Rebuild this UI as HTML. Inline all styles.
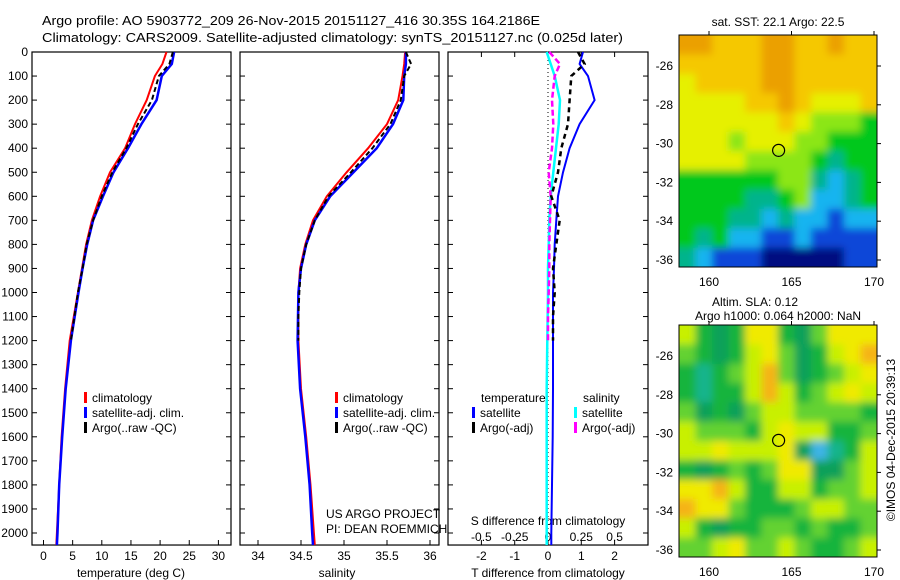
<!DOCTYPE html>
<html><head><meta charset="utf-8"><style>
body{margin:0;background:#fff;}
svg{display:block;font-family:"Liberation Sans",sans-serif;}
</style></head><body>
<svg id="fig" width="900" height="580" viewBox="0 0 900 580">
<rect width="900" height="580" fill="#fff"/>
<text x="42" y="25" font-size="13" textLength="498" lengthAdjust="spacingAndGlyphs">Argo profile: AO 5903772_209 26-Nov-2015 20151127_416 30.35S 164.2186E</text>
<text x="42" y="42" font-size="13" textLength="581" lengthAdjust="spacingAndGlyphs">Climatology: CARS2009. Satellite-adjusted climatology: synTS_20151127.nc (0.025d later)</text>
<g id="g1"></g>
<g id="g2"></g>
<g id="g3"></g>
<g id="m1"></g>
<g id="m2"></g>
<text x="0" y="0" font-size="12" text-anchor="middle" transform="translate(895,440) rotate(-90)">©IMOS 04-Dec-2015 20:39:13</text>
</svg>
<script>
// ---- data ----
const depths = [0,50,100,200,300,400,500,600,700,800,900,1000,1200,1400,1600,1800,2000,2050];
const tempClim = [21.1,20.4,19.1,17.7,15.7,14.0,11.4,9.7,8.3,7.3,6.6,5.9,4.5,3.7,3.1,2.7,2.3,2.2];
const tempSat  = [22.4,22.0,20.3,19.4,16.8,14.5,12.0,10.2,8.5,7.5,6.7,6.0,4.7,3.8,3.2,2.7,2.4,2.3];
const argoDepths = [0,50,100,200,300,400,500,600,700,800,900,1000,1100,1200];
const tempArgo = [22.2,21.6,19.8,18.6,16.2,14.2,11.8,10.0,8.5,7.4,6.7,5.9,5.3,4.7];
const salClim = [35.71,35.70,35.68,35.63,35.50,35.28,35.03,34.80,34.64,34.55,34.49,34.47,34.47,34.50,34.56,34.61,34.65,34.66];
const salSat  = [35.72,35.72,35.70,35.69,35.57,35.38,35.11,34.84,34.66,34.56,34.50,34.47,34.46,34.49,34.55,34.60,34.63,34.64];
const salArgo = [35.72,35.78,35.70,35.66,35.54,35.33,35.08,34.82,34.66,34.56,34.50,34.48,34.47,34.47];
const tDiffSat = [1.05,0.95,1.2,1.4,0.95,0.65,0.45,0.3,0.25,0.2,0.18,0.15,0.15,0.15,0.14,0.12,0.1,0.1];
const tDiffArgo = [0.9,1.1,0.7,0.65,0.6,0.4,0.3,0.1,0.35,0.25,0.15,0.2,0.15,0.15];
const sDiffSat = [-0.01,0.02,0.05,0.09,0.08,0.06,0.04,0.02,0.01,0.005,0.0,0.0,-0.005,-0.01,-0.01,-0.01,-0.01,-0.01];
const sDiffArgo = [0.01,0.09,0.05,0.03,0.04,0.03,0.005,0.02,0.015,0.01,0.01,0.005,0.0,0.0];
const depthTicks = [0,100,200,300,400,500,600,700,800,900,1000,1100,1200,1300,1400,1500,1600,1700,1800,1900,2000];
const tempTicks = [0,5,10,15,20,25,30];
const salTicks = [34,34.5,35,35.5,36];
const tDiffTicks = [-2,-1,0,1,2];
const sDiffTicks = [-0.5,-0.25,0,0.25,0.5];
const lonTicks = [160,165,170];
const latTicks = [-26,-28,-30,-32,-34,-36];
const sstGrid = [
[8,8,7,7,7,8,8,7,7,8,7,7],
[7,7,7,7,7,8,8,7,7,7,7,7],
[6,7,7,7,7,8,8,7,7,7,7,7],
[6,6,6,6,7,7,8,7,6,6,6,7],
[6,6,6,6,6,6,7,6,5,5,5,4],
[6,6,6,5,6,6,6,5,5,4,4,4],
[6,6,6,6,5,5,5,5,4,3,4,4],
[4,4,4,4,4,4,5,5,3,2,3,4],
[4,4,4,4,3,3,4,5,2,2,3,4],
[4,4,4,3,3,2,3,2,2,1,2,2],
[4,3,4,2,2,1,1,2,1,1,1,1],
[3,2,1,1,1,0,0,0,0,0,1,1]];
const slaGrid = [
[5,3,2,3,6,6,3,2,4,6,6,6],
[4,3,2,3,5,6,4,2,3,5,6,7],
[3,1,3,4,5,7,4,2,3,4,5,6],
[3,1,3,3,5,7,5,3,4,5,6,5],
[4,2,3,2,4,5,5,4,4,4,4,3],
[5,4,4,4,3,5,6,5,5,3,3,4],
[5,5,6,5,5,5,6,2,0,1,3,5],
[3,2,3,4,3,4,6,6,2,2,4,5],
[6,6,7,5,3,3,5,5,3,4,4,5],
[7,6,6,4,3,3,3,4,5,5,4,4],
[5,3,2,3,3,4,4,3,4,3,3,4],
[4,4,5,6,4,4,5,4,3,3,4,5]];
const sstColors = ['#000a80','#0a46d8','#14b4f0','#00b48c','#00c81e','#8ce614','#e6f000','#f5c800','#eba000'];
const slaColors = ['#3cb4e6','#14b48c','#0fa05a','#14b43c','#64d232','#c8f000','#f0ea00','#f5b414'];
const argoLon = 164.2186, argoLat = -30.35;

// ---- helpers ----
const NS='http://www.w3.org/2000/svg';
function mk(parent,tag,attrs){const e=document.createElementNS(NS,tag);for(const k in attrs)e.setAttribute(k,attrs[k]);parent.appendChild(e);return e;}
const yD = d => 52 + d*0.2405;
const xT = t => 43.5 + t*5.83;
const xS = s => 258 + (s-34)*86;
const xTD = t => 548 + t*33.3;
const xSD = s => 548 + s*4*33.3;

function frame(g,x0,x1,name){
  const r=mk(g,'rect',{x:x0,y:52,width:x1-x0,height:yD(2050)-52,fill:'none',stroke:'#000','stroke-width':1.2});
  
  
  depthTicks.forEach(d=>{
    mk(g,'line',{x1:x0,x2:x0+5,y1:yD(d),y2:yD(d),stroke:'#000'});
    mk(g,'line',{x1:x1-5,x2:x1,y1:yD(d),y2:yD(d),stroke:'#000'});
  });
}
function line(g,xs,ys,fx,color,w,dash,name){
  const p=xs.map((v,i)=>fx(v).toFixed(1)+','+yD(ys[i]).toFixed(1)).join(' ');
  const a={points:p,fill:'none',stroke:color,'stroke-width':w};
  if(dash)a['stroke-dasharray']=dash;
  const e=mk(g,'polyline',a);
  
  
}
function txt(g,x,y,s,anchor,size,name){
  const e=mk(g,'text',{x:x,y:y,'font-size':size||12,'text-anchor':anchor||'start'});
  e.textContent=s;
  
  
  return e;
}
function legendRow(g,x,y,color,label,name){
  const m=mk(g,'rect',{x:x,y:y-10,width:3,height:11,fill:color});
  
  
  txt(g,x+8,y,label,'start',12,name+'-label');
}

// ---- temperature panel ----
const g1=document.getElementById('g1');
frame(g1,32,231,'temperature');
depthTicks.forEach(d=>txt(g1,28,yD(d)+4,String(d),'end',12,'depth-tick-label'));
tempTicks.forEach(t=>{mk(g1,'line',{x1:xT(t),x2:xT(t),y1:yD(2050),y2:yD(2050)-5,stroke:'#000'});txt(g1,xT(t),560,String(t),'middle',12,'temp-tick-label');});
txt(g1,131,577,'temperature (deg C)','middle',12,'x-axis-title-temperature');
line(g1,tempClim,depths,xT,'#f00',2,null,'temp-climatology-line');
line(g1,tempSat,depths,xT,'#00f',2.5,null,'temp-satellite-line');
line(g1,tempArgo,argoDepths,xT,'#000',2,'5,3','temp-argo-line');
legendRow(g1,84,402,'#f00','climatology','legend-climatology');
legendRow(g1,84,417,'#00f','satellite-adj. clim.','legend-satellite');
legendRow(g1,84,432,'#000','Argo(..raw -QC)','legend-argo');

// ---- salinity panel ----
const g2=document.getElementById('g2');
frame(g2,240,439,'salinity');
salTicks.forEach(s=>{mk(g2,'line',{x1:xS(s),x2:xS(s),y1:yD(2050),y2:yD(2050)-5,stroke:'#000'});txt(g2,xS(s),560,String(s),'middle',12,'sal-tick-label');});
txt(g2,337,577,'salinity','middle',12,'x-axis-title-salinity');
line(g2,salClim,depths,xS,'#f00',2,null,'sal-climatology-line');
line(g2,salSat,depths,xS,'#00f',2.5,null,'sal-satellite-line');
line(g2,salArgo,argoDepths,xS,'#000',2,'5,3','sal-argo-line');
legendRow(g2,335,402,'#f00','climatology','legend-climatology-sal');
legendRow(g2,335,417,'#00f','satellite-adj. clim.','legend-satellite-sal');
legendRow(g2,335,432,'#000','Argo(..raw -QC)','legend-argo-sal');
txt(g2,326,518,'US ARGO PROJECT','start',12,'project-credit');
txt(g2,326,533,'PI: DEAN ROEMMICH','start',12,'pi-credit');

// ---- difference panel ----
const g3=document.getElementById('g3');
frame(g3,448,648,'difference');
mk(g3,'line',{x1:548,x2:548,y1:52,y2:yD(2050),stroke:'#000','stroke-dasharray':'1,3'});
tDiffTicks.forEach(t=>{mk(g3,'line',{x1:xTD(t),x2:xTD(t),y1:yD(2050),y2:yD(2050)-5,stroke:'#000'});mk(g3,'line',{x1:xTD(t),x2:xTD(t),y1:52,y2:57,stroke:'#000'});txt(g3,xTD(t),560,String(t),'middle',12,'tdiff-tick-label');});
sDiffTicks.forEach(s=>txt(g3,xSD(s),541,String(s),'middle',12,'sdiff-tick-label'));
txt(g3,548,525,'S difference from climatology','middle',12,'s-diff-axis-title');
txt(g3,548,577,'T difference from climatology','middle',12,'t-diff-axis-title');
line(g3,sDiffSat,depths,xSD,'#0ff',2.5,null,'sdiff-satellite-line');
line(g3,sDiffArgo,argoDepths,xSD,'#f0f',2.5,'6,3','sdiff-argo-line');
line(g3,tDiffSat,depths,xTD,'#00f',2,null,'tdiff-satellite-line');
line(g3,tDiffArgo,argoDepths,xTD,'#000',2.5,'5,4','tdiff-argo-line');
txt(g3,481,402,'temperature','start',12,'legend-temperature-header');
legendRow(g3,472,417,'#00f','satellite','legend-t-satellite');
legendRow(g3,472,432,'#000','Argo(-adj)','legend-t-argo');
txt(g3,583,402,'salinity','start',12,'legend-salinity-header');
legendRow(g3,574,417,'#0ff','satellite','legend-s-satellite');
legendRow(g3,574,432,'#f0f','Argo(-adj)','legend-s-argo');

// ---- maps ----
function drawMap(id,top,grid,colors,blur,titles){
  const g=document.getElementById(id);
  const x0=679,x1=877,y0=top,y1=top+232;
  const xL=lon=>709+(lon-160)*16.5;
  const yL=lat=>top+31+(-26-lat)*19.4;
  const rows=grid.length, cols=grid[0].length;
  const cw=(x1-x0)/cols, ch=(y1-y0)/rows;
  const clip=mk(g,'clipPath',{id:id+'c'});mk(clip,'rect',{x:x0,y:y0,width:x1-x0,height:y1-y0});
  const cg=mk(g,'g',{'clip-path':'url(#'+id+'c)'});
  let inner=cg;
  if(blur){const f=mk(g,'filter',{id:id+'f',x:'-10%',y:'-10%',width:'120%',height:'120%'});mk(f,'feGaussianBlur',{stdDeviation:blur});inner=mk(cg,'g',{filter:'url(#'+id+'f)'});}
  grid.forEach((row,r)=>row.forEach((v,c)=>{
    const ex=(c===0?-12:0), ey=(r===0?-12:0), ew=(c===cols-1?12:0), eh=(r===rows-1?12:0);
    const e=mk(inner,'rect',{x:(x0+c*cw+ex).toFixed(1),y:(y0+r*ch+ey).toFixed(1),width:(cw+0.6-ex+ew).toFixed(1),height:(ch+0.6-ey+eh).toFixed(1),fill:colors[v]});
    
    
  }));
  const fr=mk(g,'rect',{x:x0,y:y0,width:x1-x0,height:y1-y0,fill:'none',stroke:'#000'});
  
  
  lonTicks.forEach(l=>{mk(g,'line',{x1:xL(l),x2:xL(l),y1:y0-4,y2:y0,stroke:'#000'});txt(g,xL(l),y1+19,String(l),'middle',12,'lon-tick-label');});
  latTicks.forEach(l=>{mk(g,'line',{x1:x1,x2:x1+4,y1:yL(l),y2:yL(l),stroke:'#000'});txt(g,673,yL(l)+4,String(l),'end',12,'lat-tick-label');});
  const c=mk(g,'circle',{cx:xL(argoLon),cy:yL(argoLat),r:6,fill:'none',stroke:'#000','stroke-width':1.2});
  
  
  titles.forEach(t=>txt(g,t[0],t[1],t[2],'middle',12,'map-title'));
}
drawMap('m1',35,sstGrid,sstColors,4,[[778,26,'sat. SST: 22.1 Argo: 22.5']]);
drawMap('m2',325,slaGrid,slaColors,4,[[755,306,'Altim. SLA: 0.12'],[778,320,'Argo h1000: 0.064 h2000: NaN']]);
</script>
</body></html>
